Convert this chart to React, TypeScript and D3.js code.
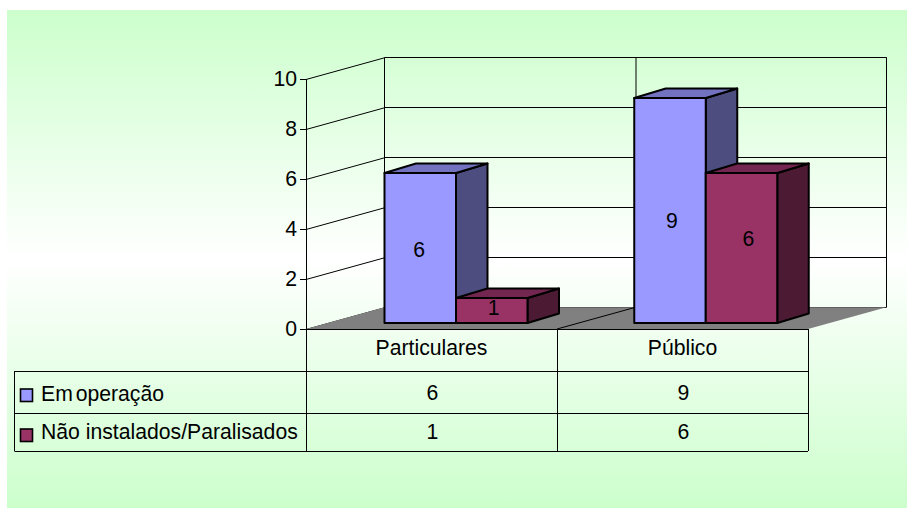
import React from "react";
import * as d3 from "d3";

const categories = ["Particulares", "Público"];
const seriesNames = ["Em operação", "Não instalados/Paralisados"];
const emOperacao = [6, 9];
const naoInstalados = [1, 6];
const yTicks = [0, 2, 4, 6, 8, 10];

const seriesValues = [emOperacao, naoInstalados];
const faceColors = [
  { front: "#9999FF", top: "#7272C0", side: "#4D4D80" },
  { front: "#993366", top: "#732650", side: "#4D1A33" },
];

const FONT = "'Liberation Sans', Arial, sans-serif";
const FONT_SIZE = 21.2;

// Floor/wall projection of the 3D box
const depthX = 78.5;
const depthY = -21.7;
const barDepthX = 31.5;
const barDepthY = -9.5;

// Nudges of the in-bar value labels, per category then series
const labelNudge: [number, number][][] = [
  [[-1, 2], [2, -3]],
  [[2, 10], [7, -9]],
];

const yFront = d3.scaleLinear().domain([0, 10]).range([329, 79]);
const yBar = d3.scaleLinear().domain([0, 10]).range([323, 73]);
const xFront = d3.scaleBand<string>().domain(categories).range([306, 808]);
const xBarGroup = d3.scaleBand<string>().domain(categories).range([384.5, 884]);
const xSeries = d3.scaleBand<number>().domain([0, 1]).range([0, 143]);

const pts = (p: [number, number][]) => p.map((d) => d.join(",")).join(" ");

export default function App() {
  const x0 = xFront.range()[0];
  const x1 = xFront.range()[1];
  const y0 = yFront(0);
  const mid = xFront(categories[1])!;
  const tableRows = [371, 413, 451];

  return (
    <svg
      width={907}
      height={508}
      style={{ position: "absolute", left: 0, top: 0, fontFamily: FONT }}
    >
      <defs>
        <linearGradient id="bg" x1="0" y1="0" x2="0" y2="1">
          <stop offset="0" stopColor="#CCFFCC" />
          <stop offset="0.5" stopColor="#FFFFFF" />
          <stop offset="1" stopColor="#CCFFCC" />
        </linearGradient>
      </defs>
      <rect x={7} y={10} width={900} height={498} fill="url(#bg)" />

      {/* back wall and side wall gridlines */}
      {yTicks.map((t) => (
        <g key={t} stroke="#000" fill="none">
          <line x1={x0 - 6} x2={x0} y1={yFront(t) + 0.5} y2={yFront(t) + 0.5} />
          <line
            x1={x0}
            y1={yFront(t) + 0.5}
            x2={x0 + depthX}
            y2={yFront(t) + depthY + 0.5}
          />
          <line
            x1={x0 + depthX}
            x2={x1 + depthX}
            y1={Math.round(yFront(t) + depthY) + 0.5}
            y2={Math.round(yFront(t) + depthY) + 0.5}
          />
        </g>
      ))}
      <g stroke="#000">
        <line x1={x0 + 0.5} x2={x0 + 0.5} y1={yFront(10)} y2={y0} />
        <line x1={x0 + depthX} x2={x0 + depthX} y1={yFront(10) + depthY} y2={y0 + depthY} />
        <line x1={mid + depthX + 0.5} x2={mid + depthX + 0.5} y1={yFront(10) + depthY} y2={y0 + depthY} />
        <line x1={x1 + depthX} x2={x1 + depthX} y1={yFront(10) + depthY} y2={y0 + depthY} />
      </g>

      {/* floor */}
      <polygon
        points={pts([
          [x0, y0],
          [x0 + depthX, y0 + depthY],
          [x1 + depthX, y0 + depthY],
          [x1, y0],
        ])}
        fill="#808080"
      />
      <line x1={mid} y1={y0} x2={mid + depthX} y2={y0 + depthY} stroke="#000" />
      <line x1={x0} y1={y0 + 0.5} x2={x1} y2={y0 + 0.5} stroke="#000" />

      {/* y axis labels */}
      {yTicks.map((t) => (
        <text
          key={t}
          x={297}
          y={yFront(t) + 6.5}
          textAnchor="end"
          fontSize={FONT_SIZE}
          fill="#000"
        >
          {t}
        </text>
      ))}

      {/* 3D bars */}
      {categories.map((c, ci) =>
        seriesValues.map((vals, si) => {
          const v = vals[ci];
          const left = xBarGroup(c)! + xSeries(si)!;
          const right = left + xSeries.bandwidth();
          const top = yBar(v);
          const bottom = yBar(0);
          const col = faceColors[si];
          const edge = {
            stroke: "#000",
            strokeWidth: 2,
            strokeLinejoin: "round" as const,
          };
          return (
            <g key={c + si}>
              <polygon
                points={pts([
                  [right, top],
                  [right + barDepthX, top + barDepthY],
                  [right + barDepthX, bottom + barDepthY],
                  [right, bottom],
                ])}
                fill={col.side}
                {...edge}
              />
              <polygon
                points={pts([
                  [left, top],
                  [left + barDepthX, top + barDepthY],
                  [right + barDepthX, top + barDepthY],
                  [right, top],
                ])}
                fill={col.top}
                {...edge}
              />
              <rect
                x={left}
                y={top}
                width={right - left}
                height={bottom - top}
                fill={col.front}
                {...edge}
              />
            </g>
          );
        })
      )}

      {/* value labels on the bars */}
      {categories.map((c, ci) =>
        seriesValues.map((vals, si) => {
          const v = vals[ci];
          const left = xBarGroup(c)! + xSeries(si)!;
          const [nx, ny] = labelNudge[ci][si];
          return (
            <text
              key={c + si}
              x={left + xSeries.bandwidth() / 2 + nx}
              y={(yBar(v) + yBar(0)) / 2 + 7 + ny}
              textAnchor="middle"
              fontSize={FONT_SIZE}
              fill="#000"
            >
              {v}
            </text>
          );
        })
      )}

      {/* data table */}
      <g stroke="#000" fill="none">
        <line x1={14.5} x2={x1} y1={tableRows[0] + 0.5} y2={tableRows[0] + 0.5} />
        <line x1={14.5} x2={x1} y1={tableRows[1] + 0.5} y2={tableRows[1] + 0.5} />
        <line x1={14.5} x2={x1} y1={tableRows[2] + 0.5} y2={tableRows[2] + 0.5} />
        <line x1={14.5} x2={14.5} y1={tableRows[0]} y2={tableRows[2]} />
        <line x1={x0 + 0.5} x2={x0 + 0.5} y1={y0} y2={tableRows[2]} />
        <line x1={mid + 0.5} x2={mid + 0.5} y1={y0} y2={tableRows[2]} />
        <line x1={x1 + 0.5} x2={x1 + 0.5} y1={y0} y2={tableRows[2]} />
      </g>
      {categories.map((c) => (
        <text
          key={c}
          x={xFront(c)! + xFront.bandwidth() / 2}
          y={355}
          textAnchor="middle"
          fontSize={FONT_SIZE}
          fill="#000"
        >
          {c}
        </text>
      ))}
      {seriesNames.map((name, si) => {
        const baseline = si === 0 ? 400 : 439;
        return (
          <g key={name}>
            <rect
              x={20.5}
              y={si === 0 ? 389 : 429}
              width={12}
              height={12.5}
              fill={faceColors[si].front}
              stroke="#000"
              strokeWidth={1.6}
            />
            <text
              x={41}
              y={si === 0 ? baseline + 1 : baseline}
              fontSize={FONT_SIZE}
              fill="#000"
              wordSpacing={si === 0 ? -3 : 0}
            >
              {name}
            </text>
            {categories.map((c, ci) => (
              <text
                key={c}
                x={xFront(c)! + xFront.bandwidth() / 2 + 1}
                y={baseline}
                textAnchor="middle"
                fontSize={FONT_SIZE}
                fill="#000"
              >
                {seriesValues[si][ci]}
              </text>
            ))}
          </g>
        );
      })}
    </svg>
  );
}
